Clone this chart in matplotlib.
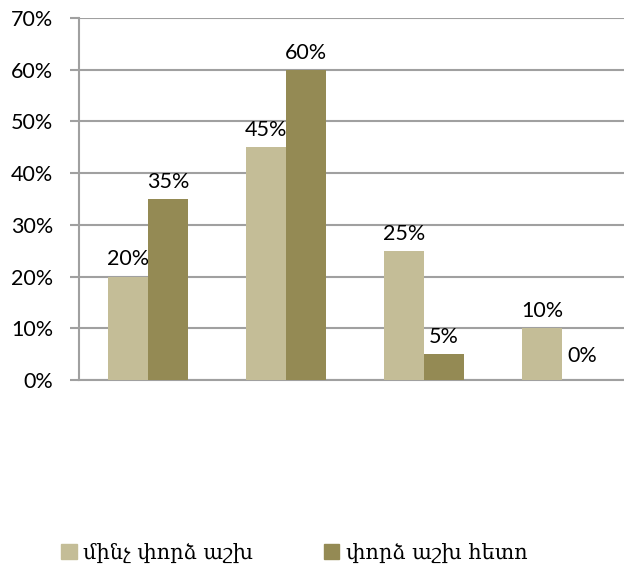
import matplotlib
matplotlib.use("Agg")
import matplotlib.pyplot as plt
import numpy as np
from matplotlib.patches import Patch

categories = ["A", "B", "C", "D"]
series_names = ["մինչ փորձ աշխ", "փորձ աշխ հետո"]
before = [20, 45, 25, 10]
after = [35, 60, 5, 0]
yticks = [0, 10, 20, 30, 40, 50, 60, 70]
ytick_labels = ["0%", "10%", "20%", "30%", "40%", "50%", "60%", "70%"]

c1 = "#C4BD97"
c2 = "#948A54"
grid_c = "#A0A0A0"

fig = plt.figure(figsize=(6.24, 5.72), dpi=100)
ax = fig.add_axes([79/624, 1-380/572, 552/624, 362/572])

x = np.arange(len(categories)) + 0.5
w = 0.29
b1 = ax.bar(x - w/2, before, w, color=c1, zorder=3)
b2 = ax.bar(x + w/2, after, w, color=c2, zorder=3)

ax.set_xlim(0, len(categories))
ax.set_ylim(0, 70)
ax.set_yticks(yticks)
ax.set_yticklabels(ytick_labels)
ax.set_xticks([])
ax.yaxis.grid(True, color=grid_c, linewidth=1.5, zorder=0)
for s in ["top", "right"]:
    ax.spines[s].set_visible(False)
for s in ["left", "bottom"]:
    ax.spines[s].set_color(grid_c)
    ax.spines[s].set_linewidth(1.5)
ax.tick_params(axis="y", length=6.5, width=1.5, color=grid_c, pad=12,
               labelsize=15.5, labelfontfamily="Lato")

for bars, vals in ((b1, before), (b2, after)):
    for r, v in zip(bars, vals):
        off = 8 if v > 0 else 13
        ax.annotate(f"{v}%", (r.get_x() + r.get_width()/2, v),
                    xytext=(0, off), textcoords="offset points",
                    ha="center", va="baseline", fontsize=15.5,
                    family="Lato", color="black", zorder=4)

handles = [Patch(color=c1), Patch(color=c2)]
fig.legend(handles, series_names, loc="center left", bbox_to_anchor=(61/624, 1-553/572),
           ncol=2, frameon=False, prop={"family": ["DejaVu Serif", "DejaVu Sans"], "size": 15},
           handlelength=0.75, handleheight=0.75, handletextpad=0.3, columnspacing=3.4,
           borderpad=0, borderaxespad=0)

fig.savefig("out.png", dpi=100)
